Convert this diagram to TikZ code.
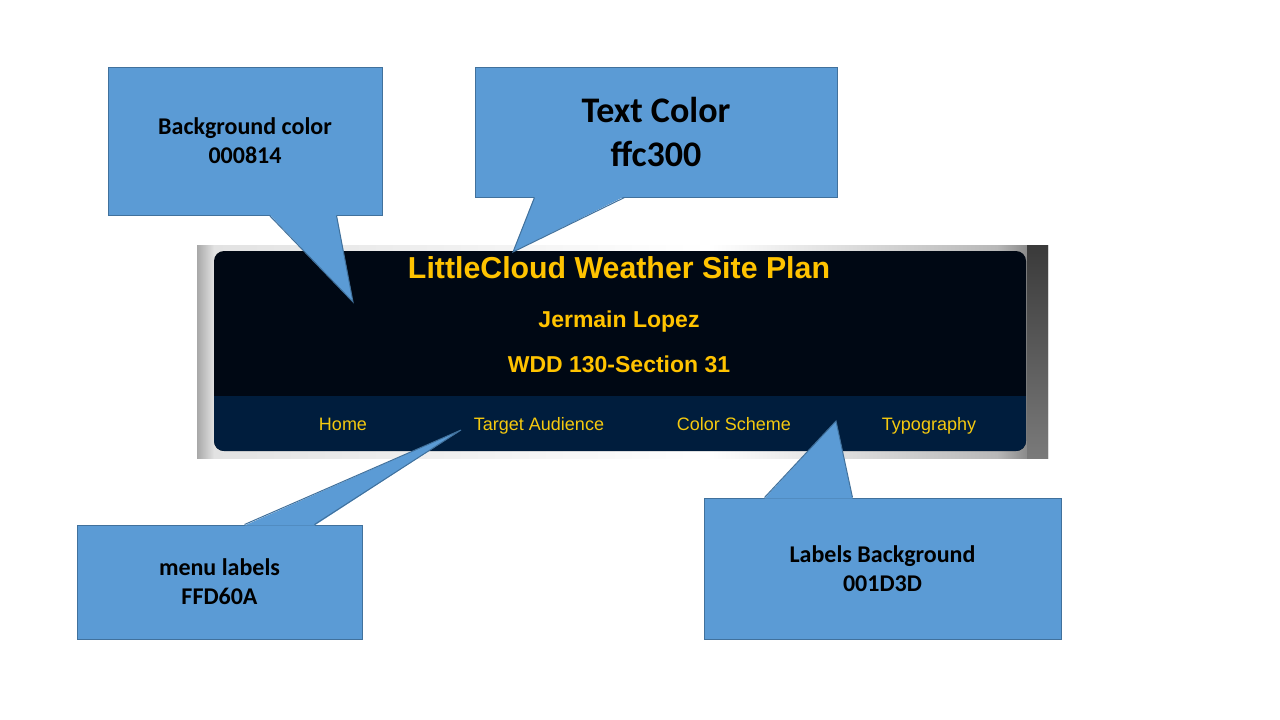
\documentclass[tikz,border=0pt]{standalone}
\usepackage{fontspec}
\setmainfont{Carlito}
\newfontfamily\webfont{Liberation Sans}
\usetikzlibrary{positioning}

\definecolor{callfill}{HTML}{5B9BD5}
\definecolor{callline}{HTML}{41719C}
\definecolor{pagebg}{HTML}{000814}
\definecolor{navbg}{HTML}{001D3D}
\definecolor{titlegold}{HTML}{FFC300}
\definecolor{menugold}{HTML}{F5C90F}
\definecolor{frameleft}{HTML}{A8A8A8}
\definecolor{framelight}{HTML}{E2E2E2}
\definecolor{framemid}{HTML}{B8B8B8}
\definecolor{frameright}{HTML}{6A6A6A}
\definecolor{edgetop}{HTML}{3A3A3A}
\definecolor{edgebottom}{HTML}{7A7A7A}

\pgfdeclarehorizontalshading{framegrad}{100bp}{color(0bp)=(frameleft); color(25bp)=(frameleft);
  color(26bp)=(framelight); color(55bp)=(white); color(72bp)=(framemid);
  color(75bp)=(frameright); color(100bp)=(frameright)}

\tikzset{
  callout/.style={draw=callline, fill=callfill, line width=1pt, inner sep=0pt,
    align=center, font=\bfseries\fontsize{24}{29}\selectfont},
  bigcallout/.style={callout, font=\bfseries\fontsize{36}{44}\selectfont},
  tail/.style={fill=callfill},
  tailedge/.style={draw=callline, line width=1pt},
  sitetitle/.style={text=titlegold, anchor=base, font=\webfont\bfseries\fontsize{30.3}{36}\selectfont},
  heading/.style={text=titlegold, anchor=base, font=\webfont\bfseries\fontsize{23}{27}\selectfont},
  menuitem/.style={text=menugold, anchor=base, font=\webfont\fontsize{18}{21}\selectfont}
}

\begin{document}
\begin{tikzpicture}[x=1pt,y=-1pt]
\useasboundingbox[fill=white] (0,0) rectangle (1280,720);

% screenshot of the page header
\shade[shading=framegrad] (197,245) rectangle (1048,458);
\shade[top color=edgetop, bottom color=edgebottom] (1027,245) rectangle (1048,458);
\fill[pagebg, rounded corners=10pt] (214,251) rectangle (1026,451);
\begin{scope}
  \clip[rounded corners=10pt] (214,251) rectangle (1026,451);
  \fill[navbg] (214,396) rectangle (1026,451);
\end{scope}

\node[sitetitle] (title) at (619,278) {LittleCloud Weather Site Plan};
\node[heading] (author) at (619,327) {Jermain Lopez};
\node[heading] (course) at (619,372) {WDD 130-Section 31};

\node[menuitem] (home) at (343,430) {Home};
\node[menuitem] (audience) at (539,430) {Target Audience};
\node[menuitem] (scheme) at (734,430) {Color Scheme};
\node[menuitem] (typo) at (929,430) {Typography};

% callouts
\node[callout, minimum width=274pt, minimum height=148pt] (bgnote) at (245,141)
  {Background color\\000814};
\node[bigcallout, minimum width=362pt, minimum height=130pt] (textnote) at (656,132)
  {Text Color\\ffc300};
\node[callout, minimum width=285pt, minimum height=114pt] (menunote) at (219.5,582)
  {menu labels\\FFD60A};
\node[callout, minimum width=357pt, minimum height=141pt] (navnote) at (882.5,568.5)
  {Labels Background\\001D3D};

\coordinate (bgtip) at (353,302);
\coordinate (texttip) at (513,252);
\coordinate (menutip) at (461,430);
\coordinate (navtip) at (836,421);

\fill[tail] ([xshift=162pt,yshift=1pt]bgnote.south west) -- (bgtip) -- ([xshift=229pt,yshift=1pt]bgnote.south west) -- cycle;
\draw[tailedge] ([xshift=162pt]bgnote.south west) -- (bgtip) -- ([xshift=229pt]bgnote.south west);

\fill[tail] ([xshift=60pt,yshift=1pt]textnote.south west) -- (texttip) -- ([xshift=150pt,yshift=1pt]textnote.south west) -- cycle;
\draw[tailedge] ([xshift=60pt]textnote.south west) -- (texttip) -- ([xshift=150pt]textnote.south west);

\fill[tail] ([xshift=168pt,yshift=-1pt]menunote.north west) -- (menutip) -- ([xshift=238pt,yshift=-1pt]menunote.north west) -- cycle;
\draw[tailedge] ([xshift=168pt]menunote.north west) -- (menutip) -- ([xshift=238pt]menunote.north west);

\fill[tail] ([xshift=61pt,yshift=-1pt]navnote.north west) -- (navtip) -- ([xshift=149pt,yshift=-1pt]navnote.north west) -- cycle;
\draw[tailedge] ([xshift=61pt]navnote.north west) -- (navtip) -- ([xshift=149pt]navnote.north west);
\end{tikzpicture}
\end{document}
